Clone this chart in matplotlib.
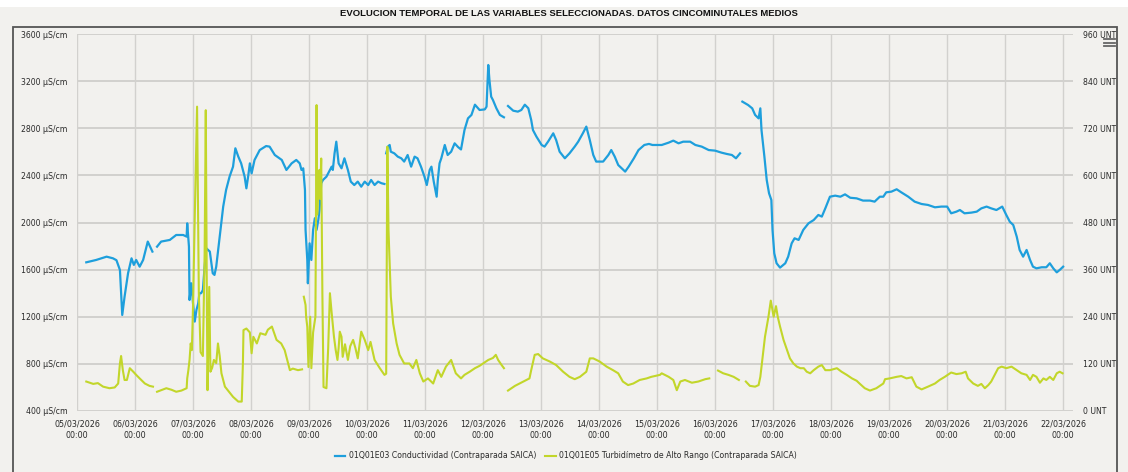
import numpy as np
import pandas as pd
import matplotlib
matplotlib.use("Agg")
import matplotlib.pyplot as plt
import matplotlib.dates as mdates
from matplotlib.patches import Rectangle
from matplotlib.lines import Line2D

nan = np.nan

# conductivity, days since 05/03/2026 00:00 (nan = gap in the record)
cond_day = [0.16, 0.33, 0.51, 0.62, 0.68, 0.74, 0.78, 0.82, 0.88, 0.94, 0.98, 1.02, 1.08, 1.14, 1.22, 1.30, nan,
            1.38, 1.45, 1.60, 1.71, 1.83, 1.89, 1.90, 1.93, 1.94, 1.97, 2.00, 2.03, 2.06, 2.09, 2.11, 2.14, 2.17,
            2.20, 2.23, 2.29, 2.34, 2.37, 2.40, 2.46, 2.52, 2.57, 2.63, 2.69, 2.73, 2.78, 2.83, 2.89, 2.92, 2.95,
            2.98, 3.01, 3.06, 3.15, 3.26, 3.32, 3.41, 3.53, 3.61, 3.70, 3.78, 3.84, 3.87, 3.90, 3.93, 3.94, 3.97,
            3.98, 4.01, 4.04, 4.07, 4.10, 4.13, 4.16, 4.18, 4.21, 4.24, 4.30, 4.36, 4.39, 4.41, 4.44, 4.47, 4.51,
            4.56, 4.61, 4.67, 4.72, 4.78, 4.84, 4.90, 4.96, 5.02, 5.07, 5.13, 5.19, 5.25, 5.30, nan,
            5.33, 5.36, 5.39, 5.41, 5.47, 5.53, 5.59, 5.64, 5.70, 5.76, 5.82, 5.87, 5.93, 5.99, 6.03, 6.08, 6.11,
            6.15, 6.20, 6.22, 6.25, 6.28, 6.34, 6.39, 6.45, 6.51, 6.57, 6.62, 6.68, 6.74, 6.80, 6.86, 6.94, 7.03,
            7.06, 7.09, 7.11, 7.14, 7.17, 7.23, 7.29, 7.36, nan,
            7.43, 7.52, 7.60, 7.66, 7.72, 7.78, 7.83, 7.86, 7.92, 8.01, 8.06, 8.12, 8.21, 8.26, 8.32, 8.41, 8.49,
            8.58, 8.64, 8.72, 8.78, 8.84, 8.90, 8.95, 9.07, 9.16, 9.21, 9.27, 9.33, 9.39, 9.45, 9.51, 9.60, 9.68,
            9.78, 9.86, 9.92, 10.08, 10.20, 10.28, 10.37, 10.45, 10.57, 10.66, 10.77, 10.89, 11.00, 11.11, 11.20,
            11.29, 11.36, 11.43, nan,
            11.47, 11.57, 11.64, 11.69, 11.75, 11.78, 11.80, 11.85, 11.89, 11.93, 11.97, 11.99, 12.02, 12.06,
            12.12, 12.21, 12.26, 12.32, 12.37, 12.44, 12.52, 12.61, 12.70, 12.78, 12.84, 12.90, 12.98, 13.07,
            13.16, 13.24, 13.33, 13.44, 13.55, 13.67, 13.75, 13.84, 13.90, 13.95, 14.04, 14.13, 14.21, 14.33,
            14.44, 14.56, 14.67, 14.79, 14.90, 15.00, 15.07, 15.16, 15.22, 15.30, 15.42, 15.51, 15.59, 15.68,
            15.76, 15.85, 15.95, 16.02, 16.08, 16.14, 16.20, 16.25, 16.31, 16.37, 16.43, 16.48, 16.54, 16.63,
            16.71, 16.77, 16.83, 16.89, 16.94, 17.00]
cond_val = [1662, 1682, 1710, 1696, 1680, 1597, 1215, 1370, 1569, 1696, 1640, 1682, 1625, 1682, 1838, 1753, nan,
            1795, 1838, 1852, 1894, 1894, 1880, 1993, 1795, 1342, 1484, 1314, 1159, 1260, 1314, 1400, 1400, 1427,
            1625, 1781, 1753, 1569, 1555, 1625, 1880, 2134, 2276, 2389, 2474, 2630, 2560, 2502, 2389, 2290, 2389,
            2502, 2417, 2530, 2615, 2649, 2644, 2573, 2531, 2446, 2502, 2531, 2502, 2446, 2460, 2276, 1937, 1682,
            1484, 1823, 1682, 1937, 2036, 1937, 2021, 2106, 2333, 2361, 2389, 2446, 2474, 2446, 2587, 2686, 2502,
            2460, 2545, 2446, 2347, 2318, 2347, 2304, 2347, 2318, 2361, 2318, 2347, 2333, 2327, nan,
            2587, 2644, 2658, 2601, 2587, 2559, 2545, 2517, 2573, 2474, 2559, 2545, 2474, 2389, 2318, 2446, 2474,
            2347, 2219, 2361, 2502, 2545, 2658, 2573, 2601, 2672, 2640, 2620, 2785, 2884, 2913, 3000, 2955, 2960,
            2983, 3337, 3210, 3068, 3040, 2969, 2913, 2893, nan,
            2989, 2949, 2941, 2955, 3000, 2970, 2870, 2785, 2729, 2658, 2644, 2686, 2757, 2700, 2601, 2545, 2587,
            2644, 2686, 2757, 2814, 2700, 2573, 2517, 2517, 2573, 2615, 2559, 2488, 2460, 2432, 2474, 2545, 2615,
            2658, 2667, 2658, 2658, 2678, 2695, 2672, 2686, 2686, 2658, 2644, 2615, 2610, 2593, 2582,
            2573, 2545, 2587, nan,
            3026, 2997, 2969, 2913, 2884, 2969, 2785, 2559, 2361, 2248, 2191, 1937, 1739, 1654,
            1617, 1654, 1710, 1823, 1866, 1852, 1937, 1993, 2021, 2064, 2050, 2120, 2219, 2228,
            2219, 2239, 2210, 2205, 2186, 2186, 2177, 2219, 2219, 2256, 2262, 2282, 2256, 2219,
            2177, 2157, 2149, 2129, 2135, 2135, 2078, 2092, 2106, 2078, 2084, 2092, 2120, 2135,
            2120, 2106, 2135, 2064, 2007, 1979, 1880, 1767, 1710, 1767, 1682, 1625, 1611, 1620,
            1620, 1654, 1611, 1577, 1597, 1625]

# turbidity, days since 05/03/2026 00:00
turb_day = [0.16, 0.28, 0.36, 0.45, 0.56, 0.65, 0.71, 0.74, 0.76, 0.79, 0.82, 0.86, 0.91, 0.97, 1.02, 1.08, 1.17,
            1.25, 1.31, nan,
            1.38, 1.49, 1.54, 1.63, 1.71, 1.80, 1.89, 1.90, 1.92, 1.94, 1.96, 1.98, 2.00, 2.03, 2.07, 2.10, 2.13,
            2.17, 2.20, 2.22, 2.24, 2.25, 2.28, 2.30, 2.33, 2.36, 2.40, 2.43, 2.46, 2.49, 2.55, 2.69, 2.78, 2.84,
            2.86, 2.87, 2.92, 2.98, 3.01, 3.04, 3.10, 3.16, 3.25, 3.29, 3.36, 3.44, 3.52, 3.58, 3.64, 3.67, 3.72,
            3.81, 3.88, nan,
            3.91, 3.94, 3.95, 3.97, 3.99, 4.02, 4.04, 4.07, 4.11, 4.13, 4.14, 4.16, 4.18, 4.19, 4.21, 4.23, 4.25,
            4.30, 4.33, 4.36, 4.39, 4.43, 4.46, 4.49, 4.51, 4.53, 4.56, 4.58, 4.62, 4.67, 4.71, 4.76, 4.80, 4.84,
            4.90, 4.96, 5.02, 5.06, 5.13, 5.22, 5.30, 5.33, 5.35, 5.37, 5.41, 5.45, 5.51, 5.56, 5.64, 5.73, 5.79,
            5.85, 5.91, 5.97, 6.05, 6.14, 6.22, 6.28, 6.36, 6.45, 6.53, 6.62, 6.68, 6.77, 6.86, 6.94, 7.00, 7.09,
            7.17, 7.22, 7.26, 7.32, 7.36, nan,
            7.43, 7.55, 7.63, 7.75, 7.80, 7.83, 7.89, 7.95, 8.03, 8.15, 8.26, 8.38, 8.49, 8.58, 8.67, 8.78, 8.84,
            8.90, 9.01, 9.13, 9.24, 9.33, 9.41, 9.50, 9.59, 9.70, 9.82, 9.90, 10.05, 10.08, 10.20, 10.28, 10.34,
            10.40, 10.48, 10.60, 10.71, 10.83, 10.90, nan,
            11.05, 11.14, 11.23, 11.32, 11.41, nan,
            11.53, 11.60, 11.69, 11.75, 11.78, 11.82, 11.86, 11.92, 11.96, 11.99, 12.01, 12.05, 12.08, 12.12,
            12.18, 12.24, 12.29, 12.35, 12.41, 12.47, 12.53, 12.58, 12.64, 12.70, 12.78, 12.84, 12.90, 12.98,
            13.10, 13.18, 13.27, 13.36, 13.44, 13.49, 13.58, 13.67, 13.78, 13.90, 13.93, 14.01, 14.13, 14.21,
            14.30, 14.39, 14.47, 14.56, 14.67, 14.79, 14.87, 14.96, 15.07, 15.16, 15.25, 15.32, 15.36, 15.45,
            15.53, 15.59, 15.65, 15.71, 15.76, 15.82, 15.88, 15.94, 16.02, 16.11, 16.20, 16.28, 16.37, 16.43,
            16.48, 16.54, 16.60, 16.66, 16.71, 16.77, 16.83, 16.89, 16.94, 16.99]
turb_val = [75, 69, 71, 62, 58, 60, 70, 121, 140, 104, 79, 79, 109, 100, 92, 83, 70,
            64, 62, nan,
            49, 55, 58, 54, 49, 52, 58, 83, 104, 130, 172, 155, 266, 495, 775, 300, 150,
            140, 400, 766, 250, 53, 316, 100, 110, 130, 122, 172, 140, 96, 62, 36, 24, 24,
            121, 206, 210, 200, 147, 189, 172, 198, 194, 207, 215, 181, 172, 155, 121, 104, 108,
            104, 106, nan,
            291, 270, 240, 214, 112, 240, 109, 200, 240, 779, 500, 563, 614, 540, 643, 300, 61,
            58, 160, 300, 250, 189, 155, 130, 160, 202, 189, 138, 170, 130, 165, 181, 160, 134,
            202, 181, 155, 176, 130, 109, 92, 95, 673, 461, 291, 223, 172, 143, 121, 121, 109,
            130, 96, 75, 83, 70, 104, 87, 113, 130, 96, 83, 92, 100, 109, 115, 121, 130,
            135, 143, 130, 117, 109, nan,
            52, 64, 70, 79, 83, 104, 143, 145, 134, 126, 117, 100, 87, 81, 87, 100, 134,
            134, 126, 113, 104, 96, 75, 66, 70, 79, 83, 87, 92, 96, 87, 79, 53,
            75, 79, 72, 75, 81, 83, nan,
            103, 96, 92, 87, 79, nan,
            75, 64, 62, 66, 87, 138, 189, 240, 281, 257, 240, 267, 240, 215,
            181, 155, 134, 121, 113, 109, 109, 100, 96, 104, 113, 117, 104, 104,
            109, 100, 92, 83, 77, 70, 58, 52, 58, 70, 81, 83, 87, 89,
            83, 86, 62, 55, 62, 70, 79, 87, 98, 94, 96, 100, 83, 70,
            64, 69, 58, 66, 75, 92, 109, 113, 109, 113, 104, 96, 92, 79,
            92, 87, 72, 83, 79, 87, 79, 96, 100, 96]

start = pd.Timestamp("2026-03-05")
cond_t = start + pd.to_timedelta(cond_day, unit="D")
turb_t = start + pd.to_timedelta(turb_day, unit="D")

cond_color = "#1e9fdc"
turb_color = "#c2d62a"
bg = "#f2f1ee"
grid_c = "#d2d1ce"
txt = "#2a2a2a"

fig = plt.figure(figsize=(11.28, 4.72), dpi=100, facecolor=bg)
W, H = 1128, 472

# white strip above the frame and chart frame
fig.add_artist(Rectangle((0, 1 - 7 / H), 1, 7 / H, transform=fig.transFigure,
                         facecolor="white", edgecolor="none"))
fig.add_artist(Rectangle((13 / W, -0.02), (1117 - 13) / W, 1.02 - 27 / H,
                         transform=fig.transFigure, facecolor="none",
                         edgecolor="#555555", linewidth=1.3))

ax = fig.add_axes([77 / W, (H - 411) / H, (1073 - 77) / W, (411 - 34) / H])
ax.set_facecolor("none")
ax2 = ax.twinx()

ax.plot(cond_t, cond_val, color=cond_color, lw=1.6,
        label="01Q01E03 Conductividad (Contraparada SAICA)")
ax2.plot(turb_t, turb_val, color=turb_color, lw=1.5,
         label="01Q01E05 Turbidímetro de Alto Rango (Contraparada SAICA)")

ax.set_ylim(400, 3600)
ax2.set_ylim(0, 960)
ax.set_xlim(start, start + pd.Timedelta(days=17.17))

left_ticks = np.arange(400, 3601, 400)
ax.set_yticks(left_ticks)
ax.set_yticklabels([f"{v} µS/cm" for v in left_ticks])
right_ticks = np.arange(0, 961, 120)
ax2.set_yticks(right_ticks)
ax2.set_yticklabels([f"{v} UNT" for v in right_ticks])

ax.xaxis.set_major_locator(mdates.DayLocator())
ax.xaxis.set_major_formatter(mdates.DateFormatter("%d/%m/%Y\n%H:%M"))

ax.grid(True, axis="y", color=grid_c, lw=1.4)
ax.grid(True, axis="x", color=grid_c, lw=1.0)
ax.set_axisbelow(True)
for a in (ax, ax2):
    for s in a.spines.values():
        s.set_visible(False)
ax.tick_params(axis="y", length=0, pad=7, labelsize=5.6, labelcolor=txt)
ax2.tick_params(axis="y", length=0, pad=7, labelsize=5.6, labelcolor=txt)
ax.tick_params(axis="x", length=0, pad=6, labelsize=5.8, labelcolor=txt)
for lab in ax.get_xticklabels():
    lab.set_linespacing(1.35)

fig.text(0.504, 1 - 14 / H,
         "EVOLUCION TEMPORAL DE LAS VARIABLES SELECCIONADAS. DATOS CINCOMINUTALES MEDIOS",
         ha="center", va="center", fontsize=6.8, fontweight="bold",
         family="Liberation Sans", color="#111111")

h1, l1 = ax.get_legend_handles_labels()
h2, l2 = ax2.get_legend_handles_labels()
fig.legend(h1 + h2, l1 + l2, loc="center", bbox_to_anchor=(566 / W, 1 - 456 / H),
           ncol=2, frameon=False, fontsize=5.6, handlelength=1.3, handletextpad=0.5,
           columnspacing=1.2, labelcolor=txt)

# menu icon
for yy in (39, 42.5, 46):
    fig.add_artist(Line2D([1104 / W, 1115 / W], [1 - yy / H, 1 - yy / H],
                          transform=fig.transFigure, color="#666666", lw=1.3))

fig.savefig("out.png", dpi=100, facecolor=bg)
